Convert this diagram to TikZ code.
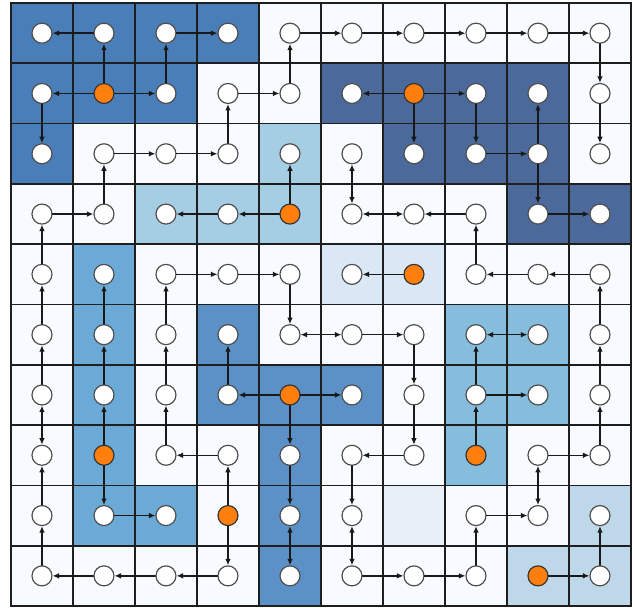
\documentclass[tikz,border=0pt]{standalone}
\usetikzlibrary{arrows.meta}
\definecolor{cellw}{HTML}{F7FBFF}
\definecolor{cellA}{HTML}{4A7EB8}
\definecolor{cellB}{HTML}{4B6A9B}
\definecolor{cellC}{HTML}{A5CDE4}
\definecolor{cellD}{HTML}{DAE8F5}
\definecolor{cellE}{HTML}{6BAAD6}
\definecolor{cellF}{HTML}{5B91C6}
\definecolor{cellG}{HTML}{86BCDC}
\definecolor{cellH}{HTML}{BED8EA}
\definecolor{cellI}{HTML}{E7F0F9}
\definecolor{rootor}{HTML}{FF7F0E}
\definecolor{gridc}{HTML}{1E1E1E}
\begin{document}
\begin{tikzpicture}[x=1.86cm,y=-1.809cm,line cap=round,line join=round,
  vtx/.style={circle,draw=black!70,line width=1pt,fill=white,minimum size=0.6cm,inner sep=0pt},
  root/.style={vtx,draw=black!80,fill=rootor},
  gline/.style={gridc,line width=1.5pt,line cap=rect},
  edge/.style={line width=1.15pt,black!90,-{Latex[length=5.5pt,width=4.8pt]}},
  both/.style={line width=1.15pt,black!90,{Latex[length=5.5pt,width=4.8pt]}-{Latex[length=5.5pt,width=4.8pt]}}]
  \useasboundingbox (-0.177,-0.05) rectangle (10.065,10.017);
  % 格子底色：每棵树一种蓝色，其余为近白色
  \fill[cellw] (0,0) rectangle (10,10);
  \fill[cellA] (0,0) rectangle (4,1);
  \fill[cellA] (0,1) rectangle (3,2);
  \fill[cellA] (0,2) rectangle (1,3);
  \fill[cellB] (5,1) rectangle (9,2);
  \fill[cellB] (6,2) rectangle (9,3);
  \fill[cellB] (8,3) rectangle (10,4);
  \fill[cellC] (4,2) rectangle (5,3);
  \fill[cellC] (2,3) rectangle (5,4);
  \fill[cellD] (5,4) rectangle (7,5);
  \fill[cellE] (1,4) rectangle (2,9);
  \fill[cellE] (2,8) rectangle (3,9);
  \fill[cellF] (3,5) rectangle (4,7);
  \fill[cellF] (4,6) rectangle (6,7);
  \fill[cellF] (4,7) rectangle (5,10);
  \fill[cellG] (7,5) rectangle (9,7);
  \fill[cellG] (7,7) rectangle (8,8);
  \fill[cellH] (9,8) rectangle (10,10);
  \fill[cellH] (8,9) rectangle (9,10);
  \fill[cellI] (6,8) rectangle (7,9);
  % 网格线
  \draw[gline] (0,0) -- (10,0);
  \draw[gline] (0,1) -- (10,1);
  \draw[gline] (0,2) -- (10,2);
  \draw[gline] (0,3) -- (10,3);
  \draw[gline] (0,4) -- (10,4);
  \draw[gline] (0,5) -- (10,5);
  \draw[gline] (0,6) -- (10,6);
  \draw[gline] (0,7) -- (10,7);
  \draw[gline] (0,8) -- (10,8);
  \draw[gline] (0,9) -- (10,9);
  \draw[gline] (0,10) -- (10,10);
  \draw[gline] (0,0) -- (0,10);
  \draw[gline] (1,0) -- (1,10);
  \draw[gline] (2,0) -- (2,10);
  \draw[gline] (3,0) -- (3,10);
  \draw[gline] (4,0) -- (4,10);
  \draw[gline] (5,0) -- (5,10);
  \draw[gline] (6,0) -- (6,10);
  \draw[gline] (7,0) -- (7,10);
  \draw[gline] (8,0) -- (8,10);
  \draw[gline] (9,0) -- (9,10);
  \draw[gline] (10,0) -- (10,10);
  % 顶点：第 r 行第 c 列记作 v<r><c>
  \node[vtx] (v00) at (0.5,0.5) {};
  \node[vtx] (v01) at (1.5,0.5) {};
  \node[vtx] (v02) at (2.5,0.5) {};
  \node[vtx] (v03) at (3.5,0.5) {};
  \node[vtx] (v04) at (4.5,0.5) {};
  \node[vtx] (v05) at (5.5,0.5) {};
  \node[vtx] (v06) at (6.5,0.5) {};
  \node[vtx] (v07) at (7.5,0.5) {};
  \node[vtx] (v08) at (8.5,0.5) {};
  \node[vtx] (v09) at (9.5,0.5) {};
  \node[vtx] (v10) at (0.5,1.5) {};
  \node[root] (v11) at (1.5,1.5) {};
  \node[vtx] (v12) at (2.5,1.5) {};
  \node[vtx] (v13) at (3.5,1.5) {};
  \node[vtx] (v14) at (4.5,1.5) {};
  \node[vtx] (v15) at (5.5,1.5) {};
  \node[root] (v16) at (6.5,1.5) {};
  \node[vtx] (v17) at (7.5,1.5) {};
  \node[vtx] (v18) at (8.5,1.5) {};
  \node[vtx] (v19) at (9.5,1.5) {};
  \node[vtx] (v20) at (0.5,2.5) {};
  \node[vtx] (v21) at (1.5,2.5) {};
  \node[vtx] (v22) at (2.5,2.5) {};
  \node[vtx] (v23) at (3.5,2.5) {};
  \node[vtx] (v24) at (4.5,2.5) {};
  \node[vtx] (v25) at (5.5,2.5) {};
  \node[vtx] (v26) at (6.5,2.5) {};
  \node[vtx] (v27) at (7.5,2.5) {};
  \node[vtx] (v28) at (8.5,2.5) {};
  \node[vtx] (v29) at (9.5,2.5) {};
  \node[vtx] (v30) at (0.5,3.5) {};
  \node[vtx] (v31) at (1.5,3.5) {};
  \node[vtx] (v32) at (2.5,3.5) {};
  \node[vtx] (v33) at (3.5,3.5) {};
  \node[root] (v34) at (4.5,3.5) {};
  \node[vtx] (v35) at (5.5,3.5) {};
  \node[vtx] (v36) at (6.5,3.5) {};
  \node[vtx] (v37) at (7.5,3.5) {};
  \node[vtx] (v38) at (8.5,3.5) {};
  \node[vtx] (v39) at (9.5,3.5) {};
  \node[vtx] (v40) at (0.5,4.5) {};
  \node[vtx] (v41) at (1.5,4.5) {};
  \node[vtx] (v42) at (2.5,4.5) {};
  \node[vtx] (v43) at (3.5,4.5) {};
  \node[vtx] (v44) at (4.5,4.5) {};
  \node[vtx] (v45) at (5.5,4.5) {};
  \node[root] (v46) at (6.5,4.5) {};
  \node[vtx] (v47) at (7.5,4.5) {};
  \node[vtx] (v48) at (8.5,4.5) {};
  \node[vtx] (v49) at (9.5,4.5) {};
  \node[vtx] (v50) at (0.5,5.5) {};
  \node[vtx] (v51) at (1.5,5.5) {};
  \node[vtx] (v52) at (2.5,5.5) {};
  \node[vtx] (v53) at (3.5,5.5) {};
  \node[vtx] (v54) at (4.5,5.5) {};
  \node[vtx] (v55) at (5.5,5.5) {};
  \node[vtx] (v56) at (6.5,5.5) {};
  \node[vtx] (v57) at (7.5,5.5) {};
  \node[vtx] (v58) at (8.5,5.5) {};
  \node[vtx] (v59) at (9.5,5.5) {};
  \node[vtx] (v60) at (0.5,6.5) {};
  \node[vtx] (v61) at (1.5,6.5) {};
  \node[vtx] (v62) at (2.5,6.5) {};
  \node[vtx] (v63) at (3.5,6.5) {};
  \node[root] (v64) at (4.5,6.5) {};
  \node[vtx] (v65) at (5.5,6.5) {};
  \node[vtx] (v66) at (6.5,6.5) {};
  \node[vtx] (v67) at (7.5,6.5) {};
  \node[vtx] (v68) at (8.5,6.5) {};
  \node[vtx] (v69) at (9.5,6.5) {};
  \node[vtx] (v70) at (0.5,7.5) {};
  \node[root] (v71) at (1.5,7.5) {};
  \node[vtx] (v72) at (2.5,7.5) {};
  \node[vtx] (v73) at (3.5,7.5) {};
  \node[vtx] (v74) at (4.5,7.5) {};
  \node[vtx] (v75) at (5.5,7.5) {};
  \node[vtx] (v76) at (6.5,7.5) {};
  \node[root] (v77) at (7.5,7.5) {};
  \node[vtx] (v78) at (8.5,7.5) {};
  \node[vtx] (v79) at (9.5,7.5) {};
  \node[vtx] (v80) at (0.5,8.5) {};
  \node[vtx] (v81) at (1.5,8.5) {};
  \node[vtx] (v82) at (2.5,8.5) {};
  \node[root] (v83) at (3.5,8.5) {};
  \node[vtx] (v84) at (4.5,8.5) {};
  \node[vtx] (v85) at (5.5,8.5) {};
  \node[vtx] (v87) at (7.5,8.5) {};
  \node[vtx] (v88) at (8.5,8.5) {};
  \node[vtx] (v89) at (9.5,8.5) {};
  \node[vtx] (v90) at (0.5,9.5) {};
  \node[vtx] (v91) at (1.5,9.5) {};
  \node[vtx] (v92) at (2.5,9.5) {};
  \node[vtx] (v93) at (3.5,9.5) {};
  \node[vtx] (v94) at (4.5,9.5) {};
  \node[vtx] (v95) at (5.5,9.5) {};
  \node[vtx] (v96) at (6.5,9.5) {};
  \node[vtx] (v97) at (7.5,9.5) {};
  \node[root] (v98) at (8.5,9.5) {};
  \node[vtx] (v99) at (9.5,9.5) {};
  % 有向边
  \draw[edge] (v01) -- (v00);
  \draw[edge] (v11) -- (v01);
  \draw[edge] (v12) -- (v02);
  \draw[edge] (v02) -- (v03);
  \draw[edge] (v14) -- (v04);
  \draw[edge] (v04) -- (v05);
  \draw[edge] (v05) -- (v06);
  \draw[edge] (v06) -- (v07);
  \draw[edge] (v07) -- (v08);
  \draw[edge] (v08) -- (v09);
  \draw[edge] (v09) -- (v19);
  \draw[edge] (v19) -- (v29);
  \draw[edge] (v11) -- (v10);
  \draw[edge] (v11) -- (v12);
  \draw[edge] (v10) -- (v20);
  \draw[edge] (v13) -- (v14);
  \draw[edge] (v23) -- (v13);
  \draw[edge] (v16) -- (v15);
  \draw[edge] (v16) -- (v17);
  \draw[edge] (v16) -- (v26);
  \draw[edge] (v17) -- (v27);
  \draw[edge] (v28) -- (v18);
  \draw[edge] (v21) -- (v22);
  \draw[edge] (v22) -- (v23);
  \draw[edge] (v31) -- (v21);
  \draw[edge] (v34) -- (v24);
  \draw[edge] (v27) -- (v28);
  \draw[edge] (v28) -- (v38);
  \draw[both] (v25) -- (v35);
  \draw[edge] (v30) -- (v31);
  \draw[edge] (v40) -- (v30);
  \draw[edge] (v34) -- (v33);
  \draw[edge] (v33) -- (v32);
  \draw[both] (v35) -- (v36);
  \draw[edge] (v37) -- (v36);
  \draw[edge] (v47) -- (v37);
  \draw[edge] (v38) -- (v39);
  \draw[edge] (v42) -- (v43);
  \draw[edge] (v43) -- (v44);
  \draw[edge] (v50) -- (v40);
  \draw[edge] (v51) -- (v41);
  \draw[edge] (v52) -- (v42);
  \draw[edge] (v44) -- (v54);
  \draw[edge] (v46) -- (v45);
  \draw[edge] (v48) -- (v47);
  \draw[edge] (v49) -- (v48);
  \draw[edge] (v59) -- (v49);
  \draw[edge] (v60) -- (v50);
  \draw[edge] (v61) -- (v51);
  \draw[edge] (v62) -- (v52);
  \draw[edge] (v63) -- (v53);
  \draw[both] (v54) -- (v55);
  \draw[edge] (v55) -- (v56);
  \draw[edge] (v56) -- (v66);
  \draw[both] (v57) -- (v58);
  \draw[edge] (v67) -- (v57);
  \draw[edge] (v69) -- (v59);
  \draw[both] (v60) -- (v70);
  \draw[edge] (v71) -- (v61);
  \draw[edge] (v72) -- (v62);
  \draw[edge] (v64) -- (v63);
  \draw[edge] (v64) -- (v74);
  \draw[edge] (v64) -- (v65);
  \draw[edge] (v66) -- (v76);
  \draw[edge] (v77) -- (v67);
  \draw[edge] (v67) -- (v68);
  \draw[edge] (v79) -- (v69);
  \draw[edge] (v80) -- (v70);
  \draw[edge] (v71) -- (v81);
  \draw[edge] (v73) -- (v72);
  \draw[edge] (v83) -- (v73);
  \draw[edge] (v74) -- (v84);
  \draw[edge] (v76) -- (v75);
  \draw[edge] (v75) -- (v85);
  \draw[edge] (v78) -- (v79);
  \draw[both] (v78) -- (v88);
  \draw[edge] (v90) -- (v80);
  \draw[edge] (v81) -- (v82);
  \draw[edge] (v83) -- (v93);
  \draw[both] (v84) -- (v94);
  \draw[both] (v85) -- (v95);
  \draw[edge] (v87) -- (v88);
  \draw[edge] (v97) -- (v87);
  \draw[edge] (v99) -- (v89);
  \draw[edge] (v93) -- (v92);
  \draw[edge] (v92) -- (v91);
  \draw[edge] (v91) -- (v90);
  \draw[edge] (v95) -- (v96);
  \draw[edge] (v96) -- (v97);
  \draw[edge] (v98) -- (v99);
\end{tikzpicture}
\end{document}
